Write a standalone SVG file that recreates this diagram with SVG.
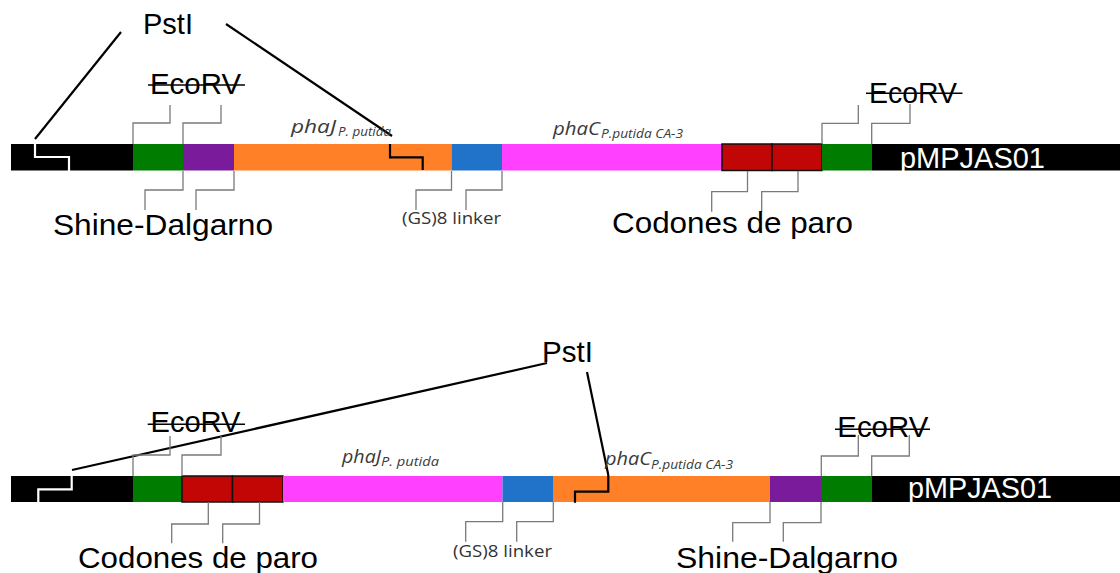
<svg xmlns="http://www.w3.org/2000/svg" width="1120" height="573" viewBox="0 0 1120 573">
  <style>
    .lbl { font-family: "Liberation Sans", Arial, sans-serif; font-size: 30px; fill: #000; }
    .plasmid { font-family: "Liberation Sans", Arial, sans-serif; font-size: 29px; fill: #fff; }
    .small { font-family: "Open Sans", "Noto Sans", sans-serif; font-size: 16px; fill: #333; }
    .gene { font-family: "Open Sans", "Noto Sans", sans-serif; font-style: italic; font-size: 19px; fill: #3a3a3a; }
    .gene-sub { font-family: "Open Sans", "Noto Sans", sans-serif; font-style: italic; font-size: 13px; fill: #3a3a3a; }
    .strike { stroke: #000; stroke-width: 1.6; }
    .leader { fill: none; stroke: #7a7a7a; stroke-width: 1.3; }
    .cut { fill: none; stroke: #000; stroke-width: 2.2; }
    .cut-w { fill: none; stroke: #fff; stroke-width: 2.2; }
    .bb { fill: #000; }
    .rbs { fill: #7a1b9c; }
    .ins { fill: #007d00; }
    .phaj { fill: #ff8026; }
    .link { fill: #2173c9; }
    .phac { fill: #ff40ff; }
    .stop { fill: #c20606; stroke: #111; stroke-width: 1.5; }
  </style>

  <!-- ===== Construct 1 ===== -->
  <g id="c1-backbone-left"><rect class="bb" x="11" y="144" width="122" height="26.5"/></g>
  <g id="c1-ecorv-left"><rect class="ins" x="133" y="144" width="50" height="26.5"/></g>
  <g id="c1-sd"><rect class="rbs" x="183" y="144" width="51" height="26.5"/></g>
  <g id="c1-phaJ"><rect class="phaj" x="234" y="144" width="217.5" height="26.5"/></g>
  <g id="c1-linker"><rect class="link" x="451.5" y="144" width="50.5" height="26.5"/></g>
  <g id="c1-phaC"><rect class="phac" x="502" y="144" width="220" height="26.5"/></g>
  <g id="c1-stop">
    <rect class="stop" x="722" y="144" width="50" height="26.5"/>
    <rect class="stop" x="772" y="144" width="50" height="26.5"/>
  </g>
  <g id="c1-ecorv-right"><rect class="ins" x="822" y="144" width="50" height="26.5"/></g>
  <g id="c1-backbone-right">
    <rect class="bb" x="872" y="144" width="248" height="26.5"/>
    <text class="plasmid" x="900" y="168" textLength="145" lengthAdjust="spacingAndGlyphs">pMPJAS01</text>
  </g>

  <!-- ===== Construct 2 ===== -->
  <g id="c2-backbone-left"><rect class="bb" x="11" y="476" width="122" height="26"/></g>
  <g id="c2-ecorv-left"><rect class="ins" x="133" y="476" width="49" height="26"/></g>
  <g id="c2-stop">
    <rect class="stop" x="182" y="476" width="50.5" height="26"/>
    <rect class="stop" x="232.5" y="476" width="50.5" height="26"/>
  </g>
  <g id="c2-phaJ"><rect class="phac" x="283" y="476" width="219.5" height="26"/></g>
  <g id="c2-linker"><rect class="link" x="502.5" y="476" width="50.5" height="26"/></g>
  <g id="c2-phaC"><rect class="phaj" x="553" y="476" width="217" height="26"/></g>
  <g id="c2-sd"><rect class="rbs" x="770" y="476" width="51" height="26"/></g>
  <g id="c2-ecorv-right"><rect class="ins" x="821" y="476" width="51" height="26"/></g>
  <g id="c2-backbone-right">
    <rect class="bb" x="872" y="476" width="248" height="26"/>
    <text class="plasmid" x="908" y="498" textLength="144" lengthAdjust="spacingAndGlyphs">pMPJAS01</text>
  </g>

  <!-- connectors: PstI cut lines and label leaders -->
  <g id="connectors">
    <!-- construct 1 PstI -->
    <line class="cut" x1="121" y1="32" x2="35" y2="139"/>
    <line class="cut" x1="226" y1="24" x2="392" y2="136"/>
    <polyline class="cut-w" points="35,144 35,157 69,157 69,171"/>
    <polyline class="cut" points="390,144 390,157.3 422.7,157.3 422.7,170"/>
    <!-- construct 1 leaders -->
    <polyline class="leader" points="133,144 133,123 170,123 170,105"/>
    <polyline class="leader" points="183,144 183,123 221,123 221,105"/>
    <polyline class="leader" points="183,171 183,190 145,190 145,210"/>
    <polyline class="leader" points="234,171 234,190 196,190 196,210"/>
    <polyline class="leader" points="451.5,171 451.5,190 416,190 416,210"/>
    <polyline class="leader" points="502,171 502,190 466,190 466,210"/>
    <polyline class="leader" points="747.5,171 747.5,191.7 711.7,191.7 711.7,211.7"/>
    <polyline class="leader" points="798,171 798,191.7 761.7,191.7 761.7,211.7"/>
    <polyline class="leader" points="822,144 822,123.3 858.3,123.3 858.3,105"/>
    <polyline class="leader" points="871.7,144 871.7,123.3 910,123.3 910,104"/>

    <!-- construct 2 PstI -->
    <line class="cut" x1="547" y1="363" x2="72" y2="470"/>
    <line class="cut" x1="587" y1="372" x2="608.3" y2="475"/>
    <polyline class="cut-w" points="71.7,476 71.7,489.3 38.3,489.3 38.3,502"/>
    <polyline class="cut" points="608.3,475 608.3,491.7 575,491.7 575,502.7"/>
    <!-- construct 2 leaders -->
    <polyline class="leader" points="133,476 133,455 170,455 170,436"/>
    <polyline class="leader" points="182,476 182,455 221,455 221,436"/>
    <polyline class="leader" points="208.3,502 208.3,524 171.7,524 171.7,543.3"/>
    <polyline class="leader" points="259.5,502 259.5,524 222.7,524 222.7,543.3"/>
    <polyline class="leader" points="502.7,502 502.7,521.7 465.7,521.7 465.7,541.7"/>
    <polyline class="leader" points="553.3,502 553.3,521.7 516.7,521.7 516.7,541.7"/>
    <polyline class="leader" points="770,502 770,522.7 732.7,522.7 732.7,541.7"/>
    <polyline class="leader" points="821,502 821,522.7 783.3,522.7 783.3,541.7"/>
    <polyline class="leader" points="821.3,476 821.3,456 858.3,456 858.3,435"/>
    <polyline class="leader" points="871.7,476 871.7,456 909.3,456 909.3,435"/>
  </g>

  <!-- labels, construct 1 -->
  <g id="c1-labels">
    <text class="lbl" x="143" y="34" textLength="50" lengthAdjust="spacingAndGlyphs">PstI</text>
    <text class="lbl" x="150" y="94" textLength="91" lengthAdjust="spacingAndGlyphs">EcoRV</text>
    <line class="strike" x1="148" y1="85" x2="245" y2="85"/>
    <text class="lbl" x="869" y="102.5" textLength="88" lengthAdjust="spacingAndGlyphs">EcoRV</text>
    <line class="strike" x1="866" y1="93.3" x2="962.5" y2="93.3"/>
    <text class="lbl" x="53" y="235" textLength="220" lengthAdjust="spacingAndGlyphs">Shine-Dalgarno</text>
    <text class="lbl" x="612" y="233" textLength="241" lengthAdjust="spacingAndGlyphs">Codones de paro</text>
    <text class="small" x="402" y="224" textLength="99" lengthAdjust="spacingAndGlyphs">(GS)8 linker</text>
    <text class="gene" x="291" y="133" textLength="45" lengthAdjust="spacingAndGlyphs">phaJ</text>
    <text class="gene-sub" x="338" y="136" textLength="53" lengthAdjust="spacingAndGlyphs">P. putida</text>
    <text class="gene" x="553" y="135" textLength="47" lengthAdjust="spacingAndGlyphs">phaC</text>
    <text class="gene-sub" x="601" y="137.5" textLength="82" lengthAdjust="spacingAndGlyphs">P.putida CA-3</text>
  </g>

  <!-- labels, construct 2 -->
  <g id="c2-labels">
    <text class="lbl" x="542" y="362" textLength="51" lengthAdjust="spacingAndGlyphs">PstI</text>
    <text class="lbl" x="150.5" y="431.7" textLength="90" lengthAdjust="spacingAndGlyphs">EcoRV</text>
    <line class="strike" x1="147.7" y1="424.3" x2="245" y2="424.3"/>
    <text class="lbl" x="837.3" y="437.3" textLength="91" lengthAdjust="spacingAndGlyphs">EcoRV</text>
    <line class="strike" x1="835" y1="429.3" x2="930" y2="429.3"/>
    <text class="lbl" x="78" y="568" textLength="240" lengthAdjust="spacingAndGlyphs">Codones de paro</text>
    <text class="lbl" x="676" y="568" textLength="222" lengthAdjust="spacingAndGlyphs">Shine-Dalgarno</text>
    <text class="small" x="453" y="556.7" textLength="99" lengthAdjust="spacingAndGlyphs">(GS)8 linker</text>
    <text class="gene" x="342" y="463.3" textLength="39" lengthAdjust="spacingAndGlyphs">phaJ</text>
    <text class="gene-sub" x="381" y="466.3" textLength="58" lengthAdjust="spacingAndGlyphs">P. putida</text>
    <text class="gene" x="605" y="465" textLength="46" lengthAdjust="spacingAndGlyphs">phaC</text>
    <text class="gene-sub" x="651" y="468.5" textLength="82" lengthAdjust="spacingAndGlyphs">P.putida CA-3</text>
  </g>
</svg>
